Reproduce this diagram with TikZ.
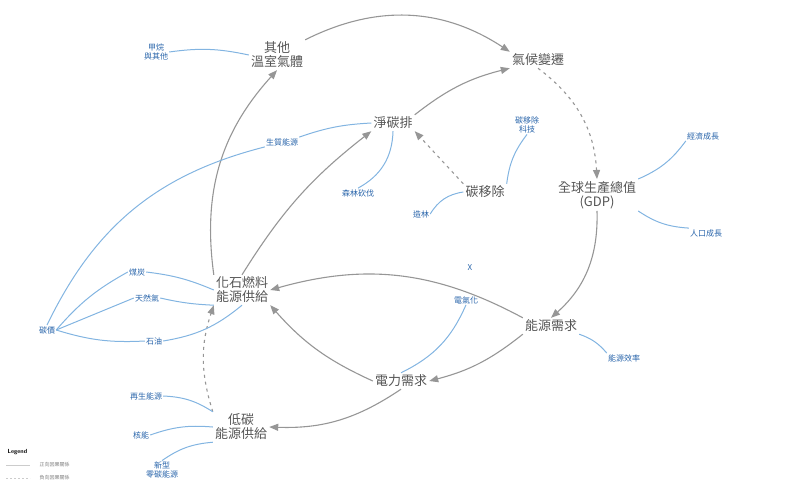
\documentclass[tikz,border=0pt]{standalone}
\usepackage{fontspec}
\newfontfamily\cjk{Noto Sans CJK TC}
\usetikzlibrary{arrows.meta}
\definecolor{gt}{RGB}{85,85,85}
\definecolor{ga}{RGB}{150,150,150}
\definecolor{bt}{RGB}{40,100,170}
\definecolor{bl}{RGB}{130,180,225}
\tikzset{
 main/.style={font=\cjk\fontsize{13}{14}\selectfont, text=gt, align=center, inner sep=2pt},
 lab/.style={font=\cjk\itshape\fontsize{8}{9}\selectfont, text=bt, align=center, inner sep=1pt},
 arr/.style={draw=ga, line width=1.1pt, -{Triangle[length=9pt,width=7pt]}},
 darr/.style={arr, dash pattern=on 3pt off 4pt},
 bline/.style={draw=bl, line width=1pt},
}
\begin{document}
\begin{tikzpicture}[x=1pt,y=-1pt]
\useasboundingbox (0,0) rectangle (800,492);
\node[main] (og) at (277,55) {其他\\溫室氣體};
\node[main] (cc) at (538,60) {氣候變遷};
\node[main] (ne) at (393,123) {淨碳排};
\node[main] (cr) at (485,192) {碳移除};
\node[main] (gdp) at (597,195) {全球生產總值\\(GDP)};
\node[main] (ff) at (242,290) {化石燃料\\能源供給};
\node[main] (ed) at (551,326) {能源需求};
\node[main] (el) at (401,381) {電力需求};
\node[main] (lc) at (241,427) {低碳\\能源供給};

\node[lab] (l1) at (156,52) {甲烷\\與其他};
\node[lab] (l2) at (282,142) {生質能源};
\node[lab] (l3) at (358,193) {森林砍伐};
\node[lab] (l4) at (527,125) {碳移除\\科技};
\node[lab] (l5) at (421,214) {造林};
\node[lab] (l6) at (703,136) {經濟成長};
\node[lab] (l7) at (706,233) {人口成長};
\node[lab] (l8) at (137,272) {煤炭};
\node[lab] (l9) at (147,298) {天然氣};
\node[lab] (l10) at (154,341) {石油};
\node[lab] (l11) at (47,330) {碳價};
\node[lab] (l12) at (466,300) {電氣化};
\node[lab] (l13) at (624,358) {能源效率};
\node[lab] (l14) at (146,396) {再生能源};
\node[lab] (l15) at (141,435) {核能};
\node[lab] (l16) at (162,470) {新型\\零碳能源};
\node[lab] (x) at (470,268) {X};

% causal arrows
\draw[arr] (og.north east) to[bend left=30] (cc.north west);
\draw[arr] (ne.north east) to[bend left=12] (cc.south west);
\draw[darr] (cc.south) to[bend left=25] (gdp.north);
\draw[darr] (cr.north west) -- (ne.south east);
\draw[arr] (gdp.south) to[bend left=25] (ed.north);
\draw[arr] (ed.north west) to[bend right=22] (ff.east);
\draw[arr] (ed.south west) to[bend left=12] (el.east);
\draw[arr] (el.west) to[bend left=12] (ff.south east);
\draw[arr] (el.south) to[bend left=18] (lc.east);
\draw[darr] (lc.north west) to[bend left=18] (ff.south west);
\draw[arr] (ff.north west) to[bend left=25] (og.south);
\draw[arr] (ff.north) to[bend left=10] (ne.south west);

% influence lines
\draw[bline] (l1.east) to[bend left=10] (og.west);
\draw[bline] (l2.north east) to[bend left=8] (ne.west);
\draw[bline] (l3.north) to[bend right=30] (ne.south);
\draw[bline] (l4.south) to[bend right=15] (cr.north east);
\draw[bline] (l5.east) to[bend left=25] (cr.west);
\draw[bline] (l6.south west) to[bend left=15] (gdp.north east);
\draw[bline] (l7.north west) to[bend left=15] (gdp.south east);
\draw[bline] (l8.east) to[bend left=8] (ff.west);
\draw[bline] (l9.east) to[bend right=5] (ff.south west);
\draw[bline] (l10.east) to[bend right=15] (ff.south);
\draw[bline] (l11.north) to[bend left=25] (l2.south west);
\draw[bline] (l11.east) to[bend left=10] (l8.west);
\draw[bline] (l11.east) -- (l9.west);
\draw[bline] (l11.east) to[bend right=10] (l10.west);
\draw[bline] (l12.south) to[bend left=20] (el.north);
\draw[bline] (l13.north west) to[bend right=15] (ed.south east);
\draw[bline] (l14.east) to[bend left=15] (lc.north west);
\draw[bline] (l15.east) to[bend left=12] (lc.west);
\draw[bline] (l16.north) to[bend left=15] (lc.south west);

% legend
\node[font=\sffamily\bfseries\fontsize{6}{7}\selectfont, anchor=west] (lg) at (4,452) {Legend};
\coordinate (a1) at (6,465); \coordinate (a2) at (30,465);
\coordinate (b1) at (6,478); \coordinate (b2) at (30,478);
\draw[draw=gray!40, line width=0.6pt] (a1) -- (a2);
\draw[draw=gray!40, line width=0.6pt, dash pattern=on 2pt off 2pt] (b1) -- (b2);
\node[font=\cjk\fontsize{5}{6}\selectfont, text=gray, anchor=west] (t1) at (36,465) {正向因果關係};
\node[font=\cjk\fontsize{5}{6}\selectfont, text=gray, anchor=west] (t2) at (36,478) {負向因果關係};
\end{tikzpicture}
\end{document}
